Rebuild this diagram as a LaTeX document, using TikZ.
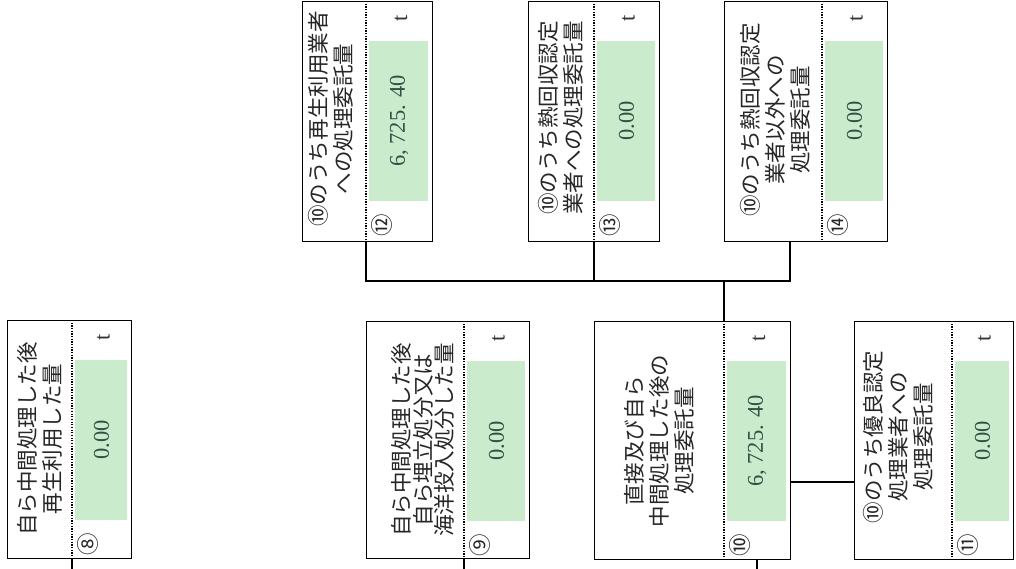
\documentclass[tikz,border=0pt]{standalone}
\usepackage{fontspec}
\setmainfont{Liberation Serif}
\newfontfamily\jp{Noto Sans CJK JP}
\usepackage{tikz}
\definecolor{valgreen}{RGB}{203,236,204}
\definecolor{valtext}{RGB}{50,80,68}

\begin{document}
\begin{tikzpicture}[x=0.025cm, y=-0.025cm,
    card/.style={draw, line width=1pt, inner sep=0, anchor=north west},
    title/.style={rotate=90, align=center, inner sep=0, text=black!85,
      font=\jp\fontsize{15.3}{17.7}\selectfont},
    num/.style={rotate=90, inner sep=0, text=valtext, font=\fontsize{16}{16}\selectfont},
    circ/.style={rotate=90, inner sep=0, text=black!85, font=\jp\fontsize{16}{16}\selectfont},
    sep/.style={densely dotted, line width=0.9pt},
    link/.style={line width=1pt}]
\useasboundingbox (0,0) rectangle (1016,569);
% cards: name/left/top/width/height/value column/value/number
\foreach \n/\bx/\by/\bw/\bh/\vw/\val/\cn in {
    8/7/320/124/238/59/0.00/⑧,
    9/366/321/163/237/65/0.00/⑨,
    10/594/321/196/238/66/{6, 725. 40}/⑩,
    11/854/321/159/238/61/0.00/⑪,
    12/302/1/130/240/66/{6, 725. 40}/⑫,
    13/528/1/131/240/65/0.00/⑬,
    14/724/1/163/240/65/0.00/⑭} {
  \pgfmathsetmacro{\dx}{\bx+\bw-\vw}
  \pgfmathsetmacro{\rx}{\bx+\bw}
  \fill[valgreen] ({\dx+3},{\by+40}) rectangle ({\rx-4},{\by+200});
  \node[card, minimum width=\bw*0.025cm, minimum height=\bh*0.025cm] (b\n) at (\bx,\by) {};
  \coordinate (d\n) at (\dx,\by);
  \draw[sep] (d\n) -- (b\n.south -| d\n);
  \node[num] (v\n) at ({\dx+\vw/2},{\by+120}) {\val};
  \node[num, text=black!80] (u\n) at ({\dx+\vw/2+2},{\by+17}) {t};
  \node[circ] (c\n) at ({\dx+16},{\by+224}) {\cn};
}
% titles
\node[title] (t8) at (40,439) {自ら中間処理した後\\再生利用した量};
\node[title, font=\jp\fontsize{15.3}{15.4}\selectfont] (t9) at (423,440)
  {自ら中間処理した後\\自ら埋立処分又は\\海洋投入処分した量};
\node[title] (t10) at (659,441) {直接及び自ら\\中間処理した後の\\処理委託量};
\node[title] (t11) at (898,437) {⑩のうち優良認定\\処理業者への\\処理委託量};
\node[title] (t12) at (331,119) {⑩のうち再生利用業者\\への処理委託量};
\node[title] (t13) at (561,118) {⑩のうち熱回収認定\\業者への処理委託量};
\node[title] (t14) at (775,120) {⑩のうち熱回収認定\\業者以外への\\処理委託量};
% connectors
\coordinate (j) at (724,281);
\coordinate (k14) at (790,281);
\coordinate (m) at (0,482);
\coordinate (e8) at (72,569);
\coordinate (e9) at (464,569);
\coordinate (e10) at (757,569);
\draw[link] (b8.south -| e8) -- (e8);
\draw[link] (b9.south -| e9) -- (e9);
\draw[link] (b10.south -| e10) -- (e10);
\draw[link] (b10.east |- m) -- (b11.west |- m);
\draw[link] (b10.north -| j) -- (j);
\draw[link] (b12.south -| d12) -- (d12 |- j) -- (k14) -- (b14.south -| k14);
\draw[link] (b13.south -| d13) -- (d13 |- j);
\end{tikzpicture}
\end{document}
